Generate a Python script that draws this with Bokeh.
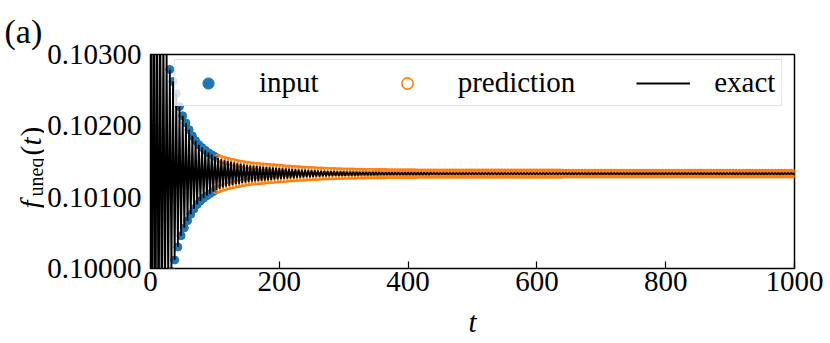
import numpy as np
from bokeh.plotting import figure
from bokeh.layouts import row
from bokeh.models import (Range1d, FixedTicker, PrintfTickFormatter, Label,
                          Legend, LegendItem)
from bokeh.embed import file_html
from bokeh.resources import INLINE

# ---------------- data ----------------
BASELINE = 0.10133          # level the signal settles to
DT = 2.5                    # sampling step in t
# deviations from BASELINE, in units of 1e-6
input_dev = [
    4900, -4450, 4050, -3620, 3220, -2920, 2640, -2370, 2100, -1920,
    1750, -1560, 1460, -1370, 1290, -1210, 1120, -1030, 940, -870,
    812, -760, 710, -660, 616, -570, 530, -495, 462, -432,
    406, -385, 365, -345, 328, -310, 294, -280, 266, -252,
    240,
]
pred_dev = [
    -228, 217, -210, 202, -195, 188, -181, 175, -169, 164,
    -159, 154, -149, 145, -140, 136, -132, 128, -124, 120,
    -116, 113, -110, 108, -106, 104, -102, 100, -98, 96,
    -94, 92, -90, 88, -86, 84, -82, 80, -78, 77,
    -75, 73, -71, 69, -68, 66, -64, 62, -61, 59,
    -57, 56, -54, 53, -52, 51, -49, 48, -47, 46,
    -44, 43, -42, 40, -39, 38, -37, 36, -35, 34,
    -34, 33, -32, 31, -30, 30, -29, 28, -28, 27,
    -27, 26, -26, 25, -25, 24, -24, 23, -23, 22,
    -22, 21, -21, 20, -20, 19, -19, 19, -18, 18,
    -18, 18, -17, 17, -17, 17, -16, 16, -16, 16,
    -15, 15, -15, 15, -15, 14, -14, 14, -14, 14,
    -14, 14, -14, 14, -14, 13, -13, 13, -13, 13,
    -13, 13, -13, 13, -12, 12, -12, 12, -12, 12,
    -12, 12, -12, 12, -12, 12, -12, 12, -11, 11,
    -11, 11, -11, 11, -11, 11, -11, 11, -11, 11,
    -11, 11, -11, 11, -11, 11, -11, 11, -11, 11,
    -11, 11, -11, 11, -11, 11, -11, 11, -11, 11,
    -10, 10, -10, 10, -10, 10, -10, 10, -10, 10,
    -10, 10, -10, 10, -10, 10, -10, 10, -10, 10,
    -10, 10, -10, 10, -10, 10, -10, 10, -10, 10,
    -10, 10, -10, 10, -10, 9, -9, 9, -9, 9,
    -9, 9, -9, 9, -9, 9, -9, 9, -9, 9,
    -9, 9, -9, 9, -9, 9, -9, 9, -9, 9,
    -9, 9, -9, 9, -9, 9, -9, 9, -9, 9,
    -9, 9, -9, 9, -9, 8, -8, 8, -8, 8,
    -8, 8, -8, 8, -8, 8, -8, 8, -8, 8,
    -8, 8, -8, 8, -8, 8, -8, 8, -8, 8,
    -8, 8, -8, 8, -8, 8, -8, 8, -8, 8,
    -8, 8, -8, 8, -8, 8, -8, 8, -8, 8,
    -8, 8, -8, 8, -8, 8, -8, 8, -8, 8,
    -8, 8, -8, 8, -8, 8, -8, 8, -8, 8,
    -7, 7, -7, 7, -7, 7, -7, 7, -7, 7,
    -7, 7, -7, 7, -7, 7, -7, 7, -7, 7,
    -7, 7, -7, 7, -7, 7, -7, 7, -7, 7,
    -7, 7, -7, 7, -7, 7, -7, 7, -7, 7,
]
x_ticks = [0, 200, 400, 600, 800, 1000]
y_ticks = [0.100, 0.101, 0.102, 0.103]
legend_labels = ["input", "prediction", "exact"]

input_t = np.arange(len(input_dev)) * DT
pred_t = (np.arange(len(pred_dev)) + len(input_dev)) * DT
input_y = BASELINE + np.array(input_dev) * 1e-6
pred_y = BASELINE + np.array(pred_dev) * 1e-6
exact_t = np.concatenate([input_t, pred_t])
exact_y = np.concatenate([input_y, pred_y])

BLUE = "#1f77b4"
ORANGE = "#ff7f0e"
SERIF = "Liberation Serif"

# ---------------- layout geometry (px) ----------------
H = 343
LABEL_W = 44                      # strip holding "(a)" and the rotated y-axis label
W = 830 - LABEL_W
LEFT, RIGHT, TOP, BOTTOM = 147 - LABEL_W, 36, 54, 75

p = figure(width=W, height=H, x_range=Range1d(0, 1000), y_range=Range1d(0.100, 0.103),
           output_backend="svg", toolbar_location=None,
           min_border_left=LEFT, min_border_right=RIGHT,
           min_border_top=TOP, min_border_bottom=BOTTOM)
p.title.visible = False
p.grid.visible = False
p.outline_line_color = "black"
p.outline_line_width = 1.5
p.background_fill_color = "white"
p.border_fill_color = "white"

for ax in (p.xaxis, p.yaxis):
    ax.axis_line_color = None
    ax.major_tick_in = 7
    ax.major_tick_out = 0
    ax.major_tick_line_width = 1.2
    ax.minor_tick_line_color = None
    ax.major_label_text_font = SERIF
    ax.major_label_text_font_size = "29px"
    ax.major_label_text_color = "black"
p.xaxis.ticker = FixedTicker(ticks=x_ticks)
p.yaxis.ticker = FixedTicker(ticks=y_ticks)
p.yaxis.formatter = PrintfTickFormatter(format="%.5f")
p.xaxis.major_label_standoff = 3
p.yaxis.major_label_standoff = 9

p.xaxis.axis_label = "t"
p.xaxis.axis_label_text_font = SERIF
p.xaxis.axis_label_text_font_size = "29px"
p.xaxis.axis_label_text_font_style = "italic"
p.xaxis.axis_label_text_color = "black"
p.xaxis.axis_label_standoff = 12

r_in = p.scatter(input_t, input_y, marker="circle", size=8,
                 fill_color=BLUE, line_color=BLUE)
r_pred = p.scatter(pred_t, pred_y, marker="circle", size=7,
                   fill_color=None, line_color=ORANGE, line_width=1.6)
r_ex = p.line(exact_t, exact_y, line_color="black", line_width=1.8)

legend = Legend(items=[LegendItem(label=legend_labels[0], renderers=[r_in]),
                       LegendItem(label=legend_labels[1], renderers=[r_pred]),
                       LegendItem(label=legend_labels[2], renderers=[r_ex])],
                orientation="horizontal", location=(24, 162),
                label_text_font=SERIF, label_text_font_size="29px",
                label_text_color="black",
                glyph_width=54, glyph_height=28, label_standoff=24,
                spacing=61, padding=6, margin=0,
                border_line_color="#c8c8c8", border_line_width=1,
                background_fill_color="white", background_fill_alpha=0.8)
p.add_layout(legend)

# ---------------- strip with "(a)" and the rotated y-axis label f_uneq(t) ----------------
# In a row, the strip's frame is aligned with the main frame (canvas y 54..268),
# so its y range is set so that data y == H - canvas y.
lab = figure(width=LABEL_W, height=H, title="(a)",
             x_range=Range1d(0, LABEL_W), y_range=Range1d(H - (H - BOTTOM), H - TOP),
             output_backend="svg", toolbar_location=None,
             x_axis_type=None, y_axis_type=None,
             min_border_left=0, min_border_right=0, min_border_top=0, min_border_bottom=0)
lab.title.text_font = SERIF
lab.title.text_font_size = "34px"
lab.title.text_font_style = "normal"
lab.title.text_color = "black"
lab.title.align = "left"
lab.title.offset = 4
lab.title.standoff = 10
lab.grid.visible = False
lab.outline_line_color = None
lab.background_fill_color = "white"
lab.border_fill_color = "white"

def add_label(x, y_from_top, text, size, style="normal", angle=0.0):
    lab.add_layout(Label(x=x, y=H - y_from_top, text=text,
                         text_font=SERIF, text_font_size=size, text_font_style=style,
                         angle=angle, text_align="left", text_baseline="alphabetic",
                         text_color="black"))

A = np.pi / 2
add_label(30, 208, "f", "29px", "italic", A)
add_label(35, 196, "uneq", "20px", "normal", A)
add_label(30, 155, "(", "29px", "normal", A)
add_label(30, 145, "t", "29px", "italic", A)
add_label(30, 136, ")", "29px", "normal", A)

layout = row(lab, p)
open("out.html", "w").write(file_html(layout, INLINE))
